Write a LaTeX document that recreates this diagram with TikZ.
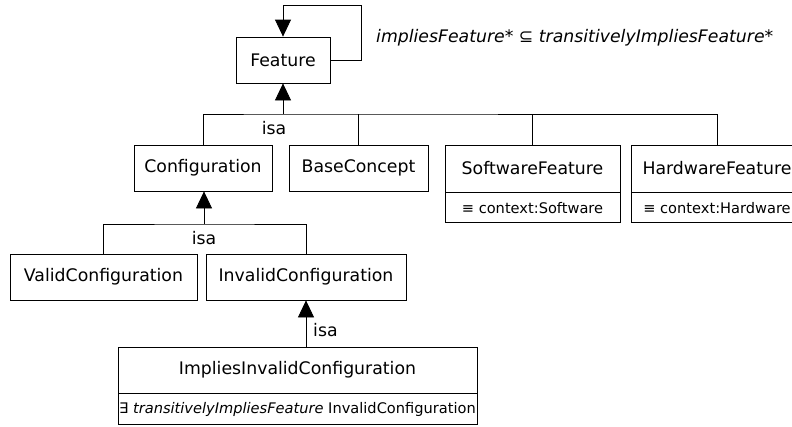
\documentclass[tikz,border=0pt]{standalone}
\usepackage{fontspec}
\setmainfont{DejaVu Sans}
\usetikzlibrary{arrows.meta}
\begin{document}
\begin{tikzpicture}[x=1pt,y=-1pt,
  cls/.style={draw=black, line width=0.8pt, inner sep=0pt, font=\fontsize{17.3}{20}\selectfont, minimum height=46pt},
  comp/.style={draw=black, line width=0.8pt, inner sep=0pt, font=\fontsize{14.6}{17}\selectfont, minimum height=30pt},
  isaarrow/.style={-{Triangle[width=16pt,length=17pt]}, line width=0.8pt},
  wire/.style={line width=0.8pt},
  lbl/.style={font=\fontsize{17.3}{20}\selectfont, inner sep=0pt}]
\useasboundingbox (0,0) rectangle (792,426);
\clip (0,0) rectangle (792,426);
\fill[white] (0,0) rectangle (792,426);

% classes
\node[cls, minimum width=94pt] (feature) at (283,60) {Feature};
\node[cls, minimum width=138pt] (config) at (203,168) {Configuration};
\node[cls, minimum width=139pt] (base) at (358.5,168) {BaseConcept};
\node[cls, minimum width=175pt, minimum height=47pt] (sw) at (532.5,168.5) {SoftwareFeature};
\node[comp, minimum width=175pt, anchor=north] (swc) at (sw.south) {≡ context:Software};
\node[cls, minimum width=172pt, minimum height=47pt] (hw) at (717,168.5) {HardwareFeature};
\node[comp, minimum width=172pt, anchor=north] (hwc) at (hw.south) {≡ context:Hardware};
\node[cls, minimum width=187pt] (valid) at (103.5,277) {ValidConfiguration};
\node[cls, minimum width=200pt] (invalid) at (306,277) {InvalidConfiguration};
\node[cls, minimum width=359pt] (implies) at (297.5,370) {ImpliesInvalidConfiguration};
\node[comp, minimum width=359pt, minimum height=31pt, anchor=north] (impc) at (implies.south) {∃ \textit{transitivelyImpliesFeature} InvalidConfiguration};

% self loop
\coordinate (loopA) at (361,5);
\draw[isaarrow] (feature.east) -| (loopA) -| (feature.north);
\node[lbl, anchor=west] (note) at (376,38) {\itshape impliesFeature* {\upshape ⊆} transitivelyImpliesFeature*};

% first isa
\coordinate (bus1) at (283,114);
\draw[isaarrow] (bus1) -- (feature.south);
\draw[wire] (config.north) |- (bus1) -| (hw.north);
\draw[wire] (base.north) -- (base.north |- bus1);
\draw[wire] (sw.north) -- (sw.north |- bus1);
\node[lbl] (isa1) at (274,128) {isa};

% second isa
\coordinate (bus2) at (204,224);
\draw[isaarrow] (bus2) -- (bus2 |- config.south);
\draw[wire] (valid.north) |- (bus2) -| (invalid.north);
\node[lbl] (isa2) at (204,238) {isa};

% third isa
\draw[isaarrow] (invalid.south |- implies.north) -- (invalid.south);
\node[lbl, anchor=west] (isa3) at (313,330) {isa};
\end{tikzpicture}
\end{document}
